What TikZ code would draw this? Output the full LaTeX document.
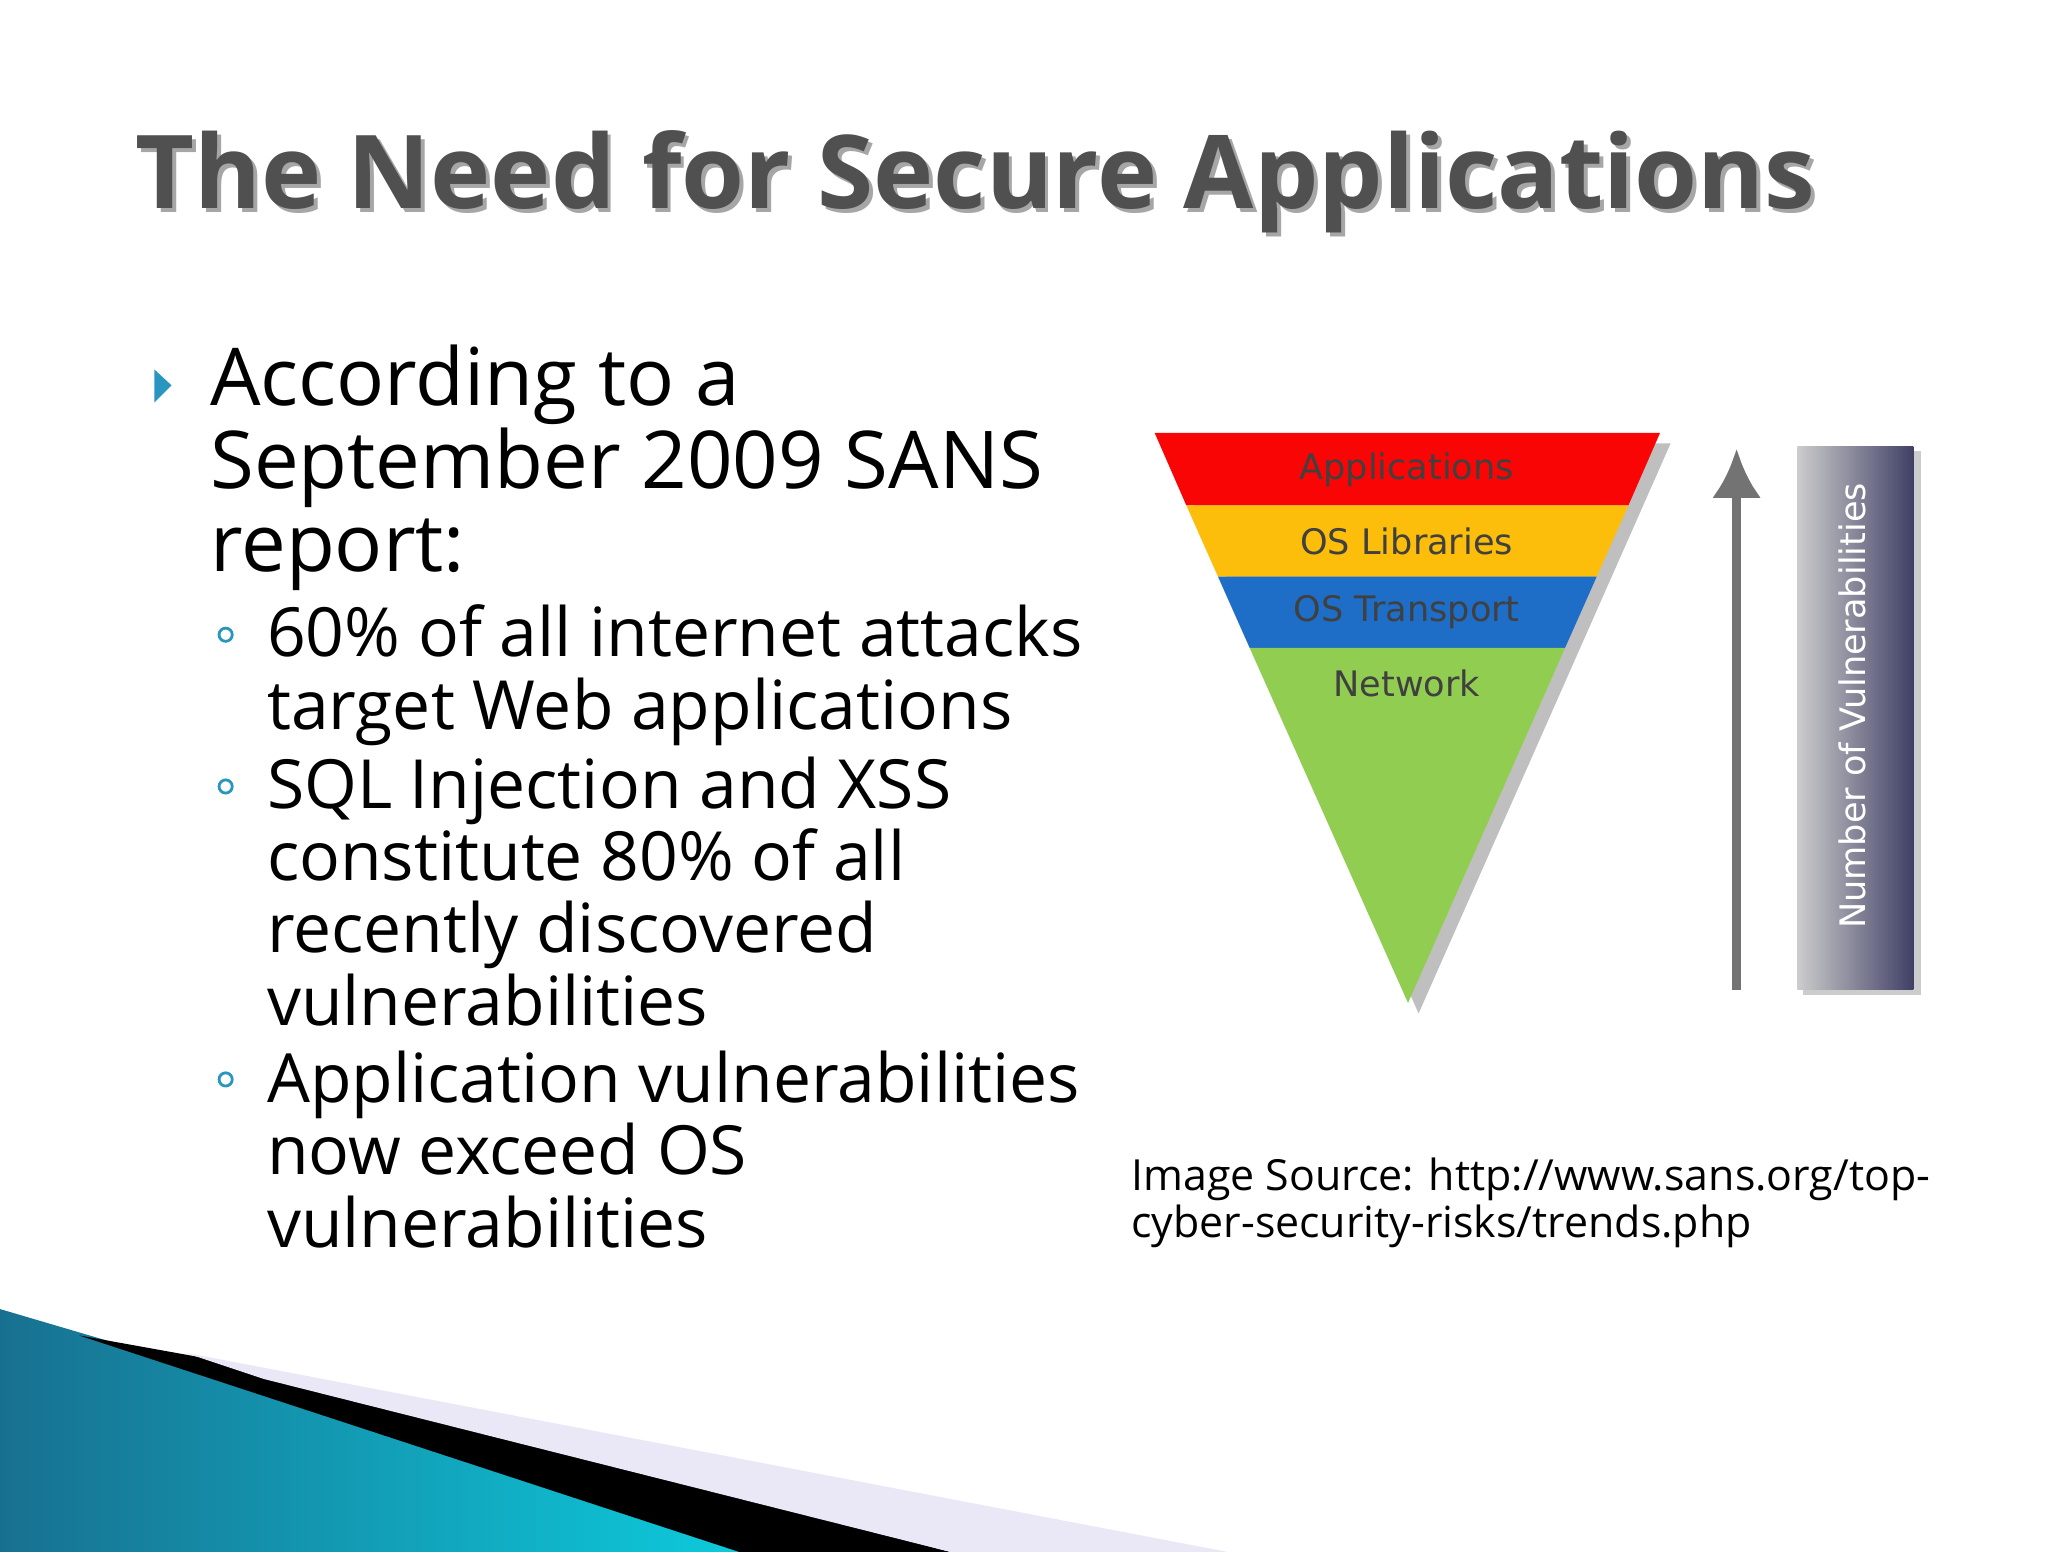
\documentclass[tikz,border=0pt]{standalone}
\usepackage{fontspec}
\setmainfont{Open Sans}
\newfontfamily\capfont{DejaVu Sans}
\usetikzlibrary{shadows,arrows.meta}
\definecolor{tgrey}{RGB}{80,80,80}
\definecolor{fred}{RGB}{250,5,5}
\definecolor{fyel}{RGB}{252,190,10}
\definecolor{fblu}{RGB}{30,110,200}
\definecolor{fgrn}{RGB}{145,205,80}
\definecolor{swblue}{RGB}{30,140,180}
\definecolor{bullc}{RGB}{40,150,190}
\tikzset{band/.style={draw=none},
 lbl/.style={font=\capfont\fontsize{10}{12}\selectfont, text=black!75},
 body/.style={anchor=north west, align=left, text=black}}
\begin{document}
\begin{tikzpicture}[x=0.013196cm,y=-0.013196cm]
\useasboundingbox (0,0) rectangle (1552,1176);
\fill[white] (0,0) rectangle (1552,1176);
% bottom swoosh
\shade[left color=swblue!80!black, right color=swblue!40!cyan] (0,992) -- (95,1020) -- (600,1176) -- (0,1176) -- cycle;
\fill[black] (60,1012) -- (160,1030) -- (720,1176) -- (560,1176) -- cycle;
\fill[cyan!15!blue!8] (140,1025) -- (930,1176) -- (720,1176) -- (200,1045) -- cycle;
% title
\node[anchor=west, text=black!35, font=\fontsize{29}{32}\selectfont\bfseries] (ts) at (96,141) {The Need for Secure Applications};
\node[anchor=west, text=tgrey, font=\fontsize{29}{32}\selectfont\bfseries] (title) at (93,138) {The Need for Secure Applications};
% bullets
\fill[bullc] (117,280) -- (130,292) -- (117,305) -- cycle;
\node[body, font=\fontsize{22.7}{23.6}\selectfont] (b1) at (150,252) {According to a\\September 2009 SANS\\report:};
\node[body, font=\fontsize{19.3}{20.6}\selectfont] (s1) at (193,449) {60\% of all internet attacks\\target Web applications};
\node[body, font=\fontsize{19.3}{20.6}\selectfont] (s2) at (193,564) {SQL Injection and XSS\\constitute 80\% of all\\recently discovered\\vulnerabilities};
\node[body, font=\fontsize{19.3}{20.6}\selectfont] (s3) at (193,787) {Application vulnerabilities\\now exceed OS\\vulnerabilities};
\foreach \yy in {481,596,818} \draw[bullc, line width=0.8pt] (171,\yy) circle (5);
% funnel
\fill[black!25] (885,336) -- (1266,336) -- (1075,768) -- cycle;
\fill[fred] (875,328) -- (1258,328) -- (1234,383) -- (899,383) -- cycle;
\fill[fyel] (899,383) -- (1234,383) -- (1210,437) -- (923,437) -- cycle;
\fill[fblu] (923,437) -- (1210,437) -- (1186,491) -- (947,491) -- cycle;
\fill[fgrn] (947,491) -- (1186,491) -- (1067,760) -- cycle;
\node[lbl] (l1) at (1066,356) {Applications};
\node[lbl] (l2) at (1066,410) {OS Libraries};
\node[lbl] (l3) at (1066,464) {OS Transport};
\node[lbl] (l4) at (1066,518) {Network};
% arrow
\coordinate (abot) at (1316,750);
\coordinate (atop) at (1316,340);
\draw[black!55, line width=2.5pt, -{Latex[length=14pt,width=14pt]}] (abot) -- (atop);
% bar
\fill[black!20] (1366,342) rectangle (1456,754);
\shade[left color=black!20, right color=blue!20!black!75] (1362,338) rectangle (1450,750);
\node[rotate=90, text=white, font=\capfont\fontsize{10}{12}\selectfont] (bar) at (1404,535) {Number of Vulnerabilities};
% source
\node[anchor=north west, align=left, font=\fontsize{12.2}{13.5}\selectfont] (src) at (848,868) {Image Source: http://www.sans.org/top-\\cyber-security-risks/trends.php};
\end{tikzpicture}
\end{document}
